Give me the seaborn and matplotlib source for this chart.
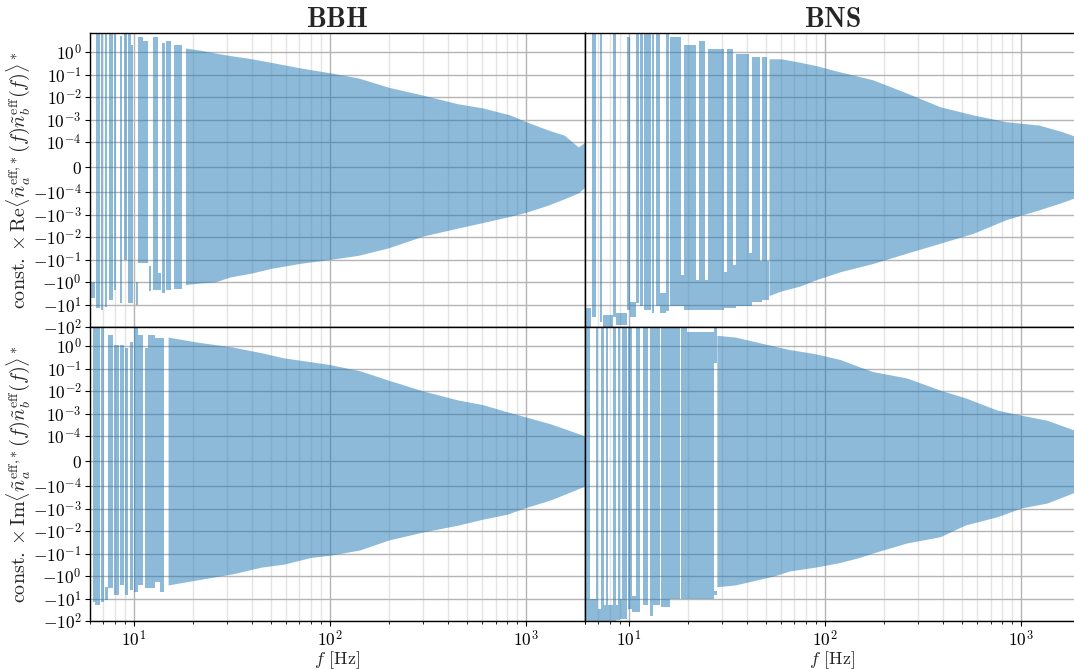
import numpy as np
import matplotlib
matplotlib.use("Agg")
import matplotlib.pyplot as plt
import seaborn as sns

# ---------------- data ----------------
titles = ["BBH", "BNS"]
ylabels = [
    r"$\mathrm{const.}\times\mathrm{Re}\langle\tilde{n}_a^{\mathrm{eff},\!*}(f)\tilde{n}_b^{\mathrm{eff}}(f)\rangle^*$",
    r"$\mathrm{const.}\times\mathrm{Im}\langle\tilde{n}_a^{\mathrm{eff},\!*}(f)\tilde{n}_b^{\mathrm{eff}}(f)\rangle^*$",
]
ytick_vals = [-1e2, -1e1, -1e0, -1e-1, -1e-2, -1e-3, -1e-4, 0, 1e-4, 1e-3, 1e-2, 1e-1, 1e0]
xtick_vals = [10, 100, 1000]

# BBH, Re : low-frequency strokes (f_start, f_end, top, bottom)
bbh_re_f0 = [6.0, 6.45, 6.80, 7.13, 7.52, 7.95, 8.50, 8.94, 9.37, 9.73, 10.3, 10.6, 11.2, 12.0, 12.5, 13.3, 14.0, 14.7, 16.1]
bbh_re_f1 = [6.36, 6.72, 7.02, 7.35, 7.83, 8.14, 8.73, 9.29, 9.66, 9.93, 10.5, 11.2, 11.8, 12.3, 13.3, 13.8, 14.5, 15.6, 17.7]
bbh_re_hi = [-1, 10, 10, 10, 10, 10, 5, 10, 10, 2, -1, 4.6, 3, -0.2, 4.6, -0.4, 2.5, 3, 2]
bbh_re_lo = [-5, -14, -17, -13, -6, -2.3, -9, -0.1, -9, -9, -10, -0.14, -0.14, -2.5, -2.3, -2.3, -3, -2.3, -2]
# BBH, Re : envelope of the dense oscillation
bbh_re_ef = [18.4, 22, 26, 31, 40, 50, 70, 100, 140, 200, 300, 450, 600, 830, 1000, 1300, 1570, 1850, 2000]
bbh_re_eh = [1.5, 1.2, 0.9, 0.7, 0.5, 0.35, 0.2, 0.12, 0.07, 0.027, 0.012, 0.005, 0.0033, 0.0016, 0.0008, 0.00034, 0.0002, 8e-5, 1e-4]
bbh_re_el = [-1.3, -1.1, -1.0, -0.6, -0.4, -0.25, -0.15, -0.1, -0.065, -0.03, -0.009, -0.004, -0.0023, -0.0012, -0.0008, -0.00038, -0.0002, -1.1e-4, -8e-5]

# BBH, Im
bbh_im_f0 = [6.0, 6.2, 6.38, 6.80, 7.13, 7.45, 7.99, 8.5, 9.0, 9.56, 10.05, 10.5, 11.4, 11.8, 12.9, 13.6]
bbh_im_f1 = [6.05, 6.35, 6.72, 7.05, 7.39, 7.83, 8.4, 8.94, 9.37, 9.93, 10.5, 11.2, 11.8, 12.9, 13.6, 14.3]
bbh_im_hi = [10, 10, 10, 10, -3, 3.1, 1.1, 1.1, 0.8, 1.5, 10, 3.1, 0.8, 3.1, 2.2, 2.2]
bbh_im_lo = [-40, -14, -19.5, -14, -12, -3.4, -7, -2.5, -7, -4, -5, -2.5, -3.4, -3.4, -1.8, -5]
bbh_im_ef = [15, 21, 32, 45, 58, 80, 100, 142, 200, 300, 450, 600, 800, 1000, 1330, 1600, 2000]
bbh_im_eh = [2.5, 1.5, 0.9, 0.5, 0.3, 0.2, 0.15, 0.08, 0.03, 0.01, 0.004, 0.0025, 0.0012, 0.0007, 0.00035, 0.0002, 1e-4]
bbh_im_el = [-2.5, -1.5, -0.8, -0.4, -0.3, -0.15, -0.12, -0.07, -0.025, -0.011, -0.0055, -0.003, -0.0018, -0.0009, -0.00042, -0.00022, -1e-4]

# BNS, Re
bns_re_f0 = [6.0, 6.53, 7.12, 7.41, 8.33, 8.66, 9.86, 10.15, 10.9, 11.4, 12.0, 13.2, 13.8, 14.5, 15.5, 16.3, 18.5, 19.2, 22.2, 22.9, 24.5, 25.4, 30.5, 31.7, 34.2, 35.3, 41.1, 42.6, 46.8, 48.0, 50.5]
bns_re_f1 = [6.44, 6.83, 7.35, 8.33, 8.6, 9.82, 10.15, 10.9, 11.3, 11.9, 13.0, 13.5, 14.5, 15.5, 16.1, 18.5, 19.2, 22.2, 22.9, 24.5, 25.4, 30.5, 31.7, 34.2, 35.3, 41.1, 42.6, 46.8, 48.0, 50.5, 52.0]
bns_re_hi = [-15, 10, 10, -30, 10, -25, 4.6, -8, 10, 10, 10, 10, 10, -3, 10, 4.6, -0.5, 2, -0.8, 3, -0.8, 1.3, -0.36, 1.3, -0.17, 0.8, -0.054, 0.6, -0.12, 0.6, -0.12]
bns_re_lo = [-100, -35, -60, -100, -35, -80, -17, -35, -9, -12, -17, -25, -12, -25, -20, -12, -12, -17, -17, -17, -17, -17, -15, -15, -15, -12, -12, -8, -8, -6, -6]
bns_re_ef = [52, 60, 75, 90, 120, 176, 262, 387, 570, 840, 1230, 1600, 2000]
bns_re_eh = [0.5, 0.5, 0.35, 0.25, 0.13, 0.058, 0.015, 0.0037, 0.0016, 0.0008, 0.00057, 0.0003, 0.00015]
bns_re_el = [-4, -2.5, -1.5, -0.8, -0.35, -0.15, -0.052, -0.019, -0.0069, -0.0017, -0.00063, -0.0003, -0.00015]

# BNS, Im
bns_im_f0 = [6.0, 6.38, 6.83, 7.03, 7.24, 7.47, 7.72, 7.9, 8.33, 8.66, 8.8, 9.03, 9.3, 9.97, 10.44, 10.9, 11.8, 12.8, 13.3, 14.6, 16.3, 18.6, 19.9, 27.3, 27.3]
bns_im_f1 = [6.38, 6.83, 7.03, 7.24, 7.47, 7.72, 7.9, 8.33, 8.66, 8.8, 9.03, 9.3, 9.86, 10.44, 10.9, 11.5, 12.6, 13.3, 14.5, 16.2, 18.2, 19.9, 27.3, 28.2, 28.2]
bns_im_hi = [10, -10, 10, -30, 10, -20, 10, -20, 10, -20, 10, -10, 10, 10, -8, 10, 10, 10, 10, 10, 10, 10, 4, 10, -4.5]
bns_im_lo = [-100, -100, -100, -100, -100, -100, -100, -100, -100, -90, -90, -80, -80, -30, -40, -40, -20, -60, -20, -25, -10, -10, -10, 0.17, -7]
bns_im_ef = [28.2, 35, 45, 55, 66, 90, 120, 150, 176, 262, 387, 520, 760, 1000, 1360, 1850, 2000]
bns_im_eh = [3, 2.5, 1.5, 1.0, 0.7, 0.45, 0.25, 0.12, 0.073, 0.038, 0.011, 0.005, 0.0014, 0.00085, 0.0005, 0.00019, 0.00015]
bns_im_el = [-3, -2.5, -1.5, -1.0, -0.6, -0.4, -0.25, -0.15, -0.095, -0.034, -0.018, -0.0054, -0.0023, -0.00095, -0.00057, -0.0002, -0.00015]

panel_data = {
    (0, 0): (bbh_re_f0, bbh_re_f1, bbh_re_hi, bbh_re_lo, bbh_re_ef, bbh_re_eh, bbh_re_el),
    (1, 0): (bbh_im_f0, bbh_im_f1, bbh_im_hi, bbh_im_lo, bbh_im_ef, bbh_im_eh, bbh_im_el),
    (0, 1): (bns_re_f0, bns_re_f1, bns_re_hi, bns_re_lo, bns_re_ef, bns_re_eh, bns_re_el),
    (1, 1): (bns_im_f0, bns_im_f1, bns_im_hi, bns_im_lo, bns_im_ef, bns_im_eh, bns_im_el),
}

# ---------------- style ----------------
sns.set_style("ticks")
plt.rcParams.update({
    "font.family": "serif",
    "font.serif": ["cmr10"],
    "mathtext.fontset": "cm",
    "axes.formatter.use_mathtext": True,
    "axes.unicode_minus": False,
    "axes.edgecolor": "black",
    "axes.linewidth": 1.0,
    "xtick.color": "black",
    "ytick.color": "black",
    "xtick.direction": "out",
    "ytick.direction": "out",
})

W, H = 1074, 669
fig = plt.figure(figsize=(W / 100, H / 100), dpi=100)
axw, axh = 495 / W, 294 / H
lefts = [90 / W, 585 / W]
bottoms = [1 - 327 / H, 1 - 621 / H]

color = "#1f77b4"
axes = {}
for r in range(2):
    for c in range(2):
        ax = fig.add_axes([lefts[c], bottoms[r], axw, axh])
        axes[(r, c)] = ax
        f0, f1, hi, lo, ef, eh, el = panel_data[(r, c)]
        for a, b, h, l in zip(f0, f1, hi, lo):
            ax.fill_between([a, b], [l, l], [h, h], color=color, alpha=0.5, lw=0)
        ax.fill_between(ef, el, eh, color=color, alpha=0.5, lw=0)

        ax.set_xscale("log")
        ax.set_yscale("symlog", linthresh=1e-4, linscale=1)
        ax.set_xlim(6, 2000)
        ax.set_ylim(-100, 7)
        ax.set_yticks(ytick_vals)
        ax.yaxis.set_minor_locator(matplotlib.ticker.NullLocator())
        ax.set_xticks(xtick_vals)
        ax.xaxis.set_minor_locator(matplotlib.ticker.LogLocator(base=10, subs=np.arange(2, 10)))
        ax.xaxis.set_minor_formatter(matplotlib.ticker.NullFormatter())
        ax.set_axisbelow(True)
        ax.grid(True, which="major", axis="both", color="#b4b4b4", lw=1.0)
        ax.grid(True, which="minor", axis="x", color="#e4e4e4", lw=1.0)
        ax.tick_params(axis="both", which="major", labelsize=12.5, length=3.5, width=0.8, pad=2.5)
        ax.tick_params(axis="x", which="minor", length=2, width=0.6)
        for s in ax.spines.values():
            s.set_color("black")
            s.set_linewidth(1.0)
        if c == 1:
            ax.tick_params(axis="y", which="both", left=False, labelleft=False)
        else:
            ax.set_ylabel(ylabels[r], fontsize=14.5, labelpad=1)
        if r == 0:
            ax.tick_params(axis="x", which="both", bottom=False, labelbottom=False)
            ax.set_title(r"$\mathbf{%s}$" % titles[c], fontsize=20, pad=4)
        else:
            ax.set_xlabel(r"$f$ [Hz]", fontsize=13)
            ax.xaxis.set_label_coords(0.5, -0.095)

fig.savefig("out.png", dpi=100)
